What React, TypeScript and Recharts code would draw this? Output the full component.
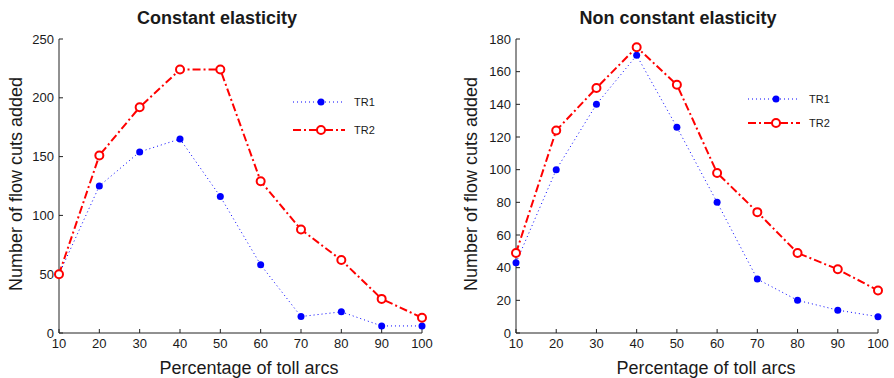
import React from "react";
import { LineChart, Line, XAxis, YAxis } from "recharts";

const toll = [10, 20, 30, 40, 50, 60, 70, 80, 90, 100];

// Constant elasticity
const constTR1 = [50, 125, 154, 165, 116, 58, 14, 18, 6, 6];
const constTR2 = [50, 151, 192, 224, 224, 129, 88, 62, 29, 13];

// Non constant elasticity
const nonConstTR1 = [43, 100, 140, 170, 126, 80, 33, 20, 14, 10];
const nonConstTR2 = [49, 124, 150, 175, 152, 98, 74, 49, 39, 26];

const constTicks = [0, 50, 100, 150, 200, 250];
const nonConstTicks = [0, 20, 40, 60, 80, 100, 120, 140, 160, 180];

const FONT = "'Liberation Sans', Arial, sans-serif";
const TEXT = "#1a1a1a";
const BLUE = "#0000ff";
const RED = "#ff0000";

const buildRows = (tr1: number[], tr2: number[]) =>
  toll.map((x, i) => ({ x, TR1: tr1[i], TR2: tr2[i] }));

interface PanelProps {
  left: number;
  title: string;
  titleX: number;
  rows: { x: number; TR1: number; TR2: number }[];
  yTicks: number[];
  plotLeft: number;
  plotRight: number;
  yLabelX: number;
  xLabelX: number;
  legendX: number;
  legendY: number;
  legendGap: number;
}

function Legend2({ x, y, gap }: { x: number; y: number; gap: number }) {
  return (
    <svg
      width={90}
      height={gap + 20}
      style={{ position: "absolute", left: x, top: y - 10 }}
    >
      <line x1={0} x2={52} y1={10} y2={10} stroke={BLUE} strokeWidth={1} strokeDasharray="1 3" />
      <circle cx={28} cy={10} r={3.5} fill={BLUE} />
      <text x={61} y={14} fontSize={11} fontFamily={FONT} fill={TEXT}>TR1</text>
      <line x1={0} x2={52} y1={10 + gap} y2={10 + gap} stroke={RED} strokeWidth={2} strokeDasharray="8 3 2 3" />
      <circle cx={28} cy={10 + gap} r={4} fill="#fff" stroke={RED} strokeWidth={2} />
      <text x={61} y={14 + gap} fontSize={11} fontFamily={FONT} fill={TEXT}>TR2</text>
    </svg>
  );
}

function Panel(p: PanelProps) {
  const yMax = p.yTicks[p.yTicks.length - 1];
  return (
    <div style={{ position: "absolute", left: p.left, top: 0, width: 447, height: 378 }}>
      <LineChart
        width={447}
        height={378}
        data={p.rows}
        margin={{ top: 39, right: 447 - p.plotRight, bottom: 15, left: 0 }}
      >
        <XAxis
          dataKey="x"
          type="number"
          domain={[10, 100]}
          ticks={toll}
          height={30}
          tickSize={-4}
          tickMargin={10}
          stroke="#222"
          tick={{ fontSize: 13, fill: TEXT, fontFamily: FONT }}
        />
        <YAxis
          type="number"
          domain={[0, yMax]}
          ticks={p.yTicks}
          width={p.plotLeft}
          tickSize={-4}
          tickMargin={9}
          stroke="#222"
          tick={{ fontSize: 13, fill: TEXT, fontFamily: FONT }}
        />
        <Line
          dataKey="TR1"
          stroke={BLUE}
          strokeWidth={1}
          strokeDasharray="1 3"
          isAnimationActive={false}
          dot={{ r: 3.5, fill: BLUE, stroke: BLUE, strokeWidth: 0, strokeDasharray: "0" }}
        />
        <Line
          dataKey="TR2"
          stroke={RED}
          strokeWidth={2}
          strokeDasharray="8 3 2 3"
          isAnimationActive={false}
          dot={{ r: 4, fill: "#fff", stroke: RED, strokeWidth: 2, strokeDasharray: "0" }}
        />
      </LineChart>
      <Legend2 x={p.legendX} y={p.legendY} gap={p.legendGap} />
      <div
        style={{
          position: "absolute",
          left: p.titleX,
          top: 18,
          transform: "translate(-50%, -50%)",
          fontSize: 18,
          fontWeight: "bold",
          fontFamily: FONT,
          color: TEXT,
          whiteSpace: "nowrap",
          lineHeight: 1,
        }}
      >
        {p.title}
      </div>
      <div
        style={{
          position: "absolute",
          left: p.yLabelX,
          top: 184,
          transform: "translate(-50%, -50%) rotate(-90deg)",
          fontSize: 18,
          fontFamily: FONT,
          color: TEXT,
          whiteSpace: "nowrap",
          lineHeight: 1,
        }}
      >
        Number of flow cuts added
      </div>
      <div
        style={{
          position: "absolute",
          left: p.xLabelX,
          top: 368,
          transform: "translate(-50%, -50%)",
          fontSize: 18,
          fontFamily: FONT,
          color: TEXT,
          whiteSpace: "nowrap",
          lineHeight: 1,
        }}
      >
        Percentage of toll arcs
      </div>
    </div>
  );
}

export default function App() {
  return (
    <div
      style={{
        position: "fixed",
        left: 0,
        top: 0,
        width: 894,
        height: 378,
        background: "#fff",
        overflow: "hidden",
      }}
    >
      <Panel
        left={0}
        title="Constant elasticity"
        titleX={217}
        rows={buildRows(constTR1, constTR2)}
        yTicks={constTicks}
        plotLeft={59}
        plotRight={422}
        yLabelX={16}
        xLabelX={249}
        legendX={293}
        legendY={102}
        legendGap={28}
      />
      <Panel
        left={447}
        title="Non constant elasticity"
        titleX={231}
        rows={buildRows(nonConstTR1, nonConstTR2)}
        yTicks={nonConstTicks}
        plotLeft={69}
        plotRight={431}
        yLabelX={24}
        xLabelX={259}
        legendX={301}
        legendY={99}
        legendGap={24}
      />
    </div>
  );
}
